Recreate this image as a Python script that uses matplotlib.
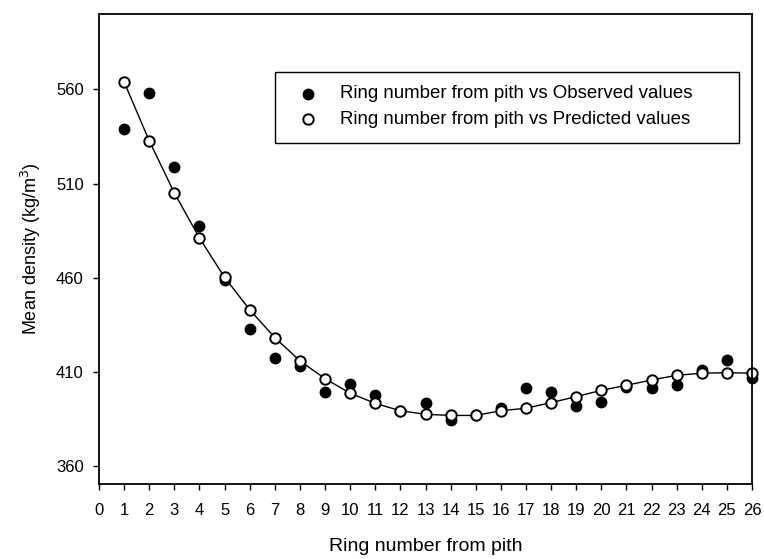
import matplotlib
matplotlib.use("Agg")
import matplotlib.pyplot as plt
from matplotlib.patches import Rectangle

plt.rcParams['font.family'] = ['Liberation Sans', 'DejaVu Sans']

ring = list(range(1, 27))
observed = [539.1, 558.2, 518.7, 487.3, 458.8, 432.7, 417.3, 413.2, 399.6, 403.4,
            397.7, 389.5, 393.3, 384.3, 387.0, 390.7, 401.3, 399.6, 391.9, 394.2,
            402.0, 401.6, 403.1, 411.0, 416.4, 407.0]
predicted = [563.9, 532.7, 505.0, 481.1, 460.2, 443.0, 428.2, 415.9, 406.4, 398.7,
             393.3, 389.4, 387.5, 386.9, 386.9, 389.4, 390.7, 393.7, 396.9, 400.2,
             402.9, 405.7, 408.2, 409.3, 409.6, 409.3]
xticks = list(range(0, 27))
yticks = [360, 410, 460, 510, 560]
label_obs = 'Ring number from pith vs Observed values'
label_pred = 'Ring number from pith vs Predicted values'

W, H = 764, 559
L, R, T, B = 99, 752, 14, 484
fig = plt.figure(figsize=(W/100, H/100), dpi=100)
ax = fig.add_axes([L/W, 1-B/H, (R-L)/W, (B-T)/H])

ms = 7.5
ax.plot(ring, observed, 'o', color='black', markersize=ms, zorder=2, clip_on=False)
ax.plot(ring, predicted, '-', color='black', linewidth=1.0, zorder=3, clip_on=False)
ax.plot(ring, predicted, 'o', markerfacecolor='white', markeredgecolor='black',
        markeredgewidth=1.4, markersize=ms, linestyle='none', zorder=4, clip_on=False)

ax.set_xlim(0, 26)
ax.set_ylim(350.5, 600)
ax.set_xticks(xticks)
ax.set_yticks(yticks)
ax.tick_params(direction='out', length=4, width=1, labelsize=12)
ax.tick_params(axis='x', pad=10)
ax.tick_params(axis='y', pad=7)
for s in ax.spines.values():
    s.set_linewidth(1.3)
    s.set_zorder(5)

ax.set_xlabel('Ring number from pith', fontsize=14, labelpad=14)
ax.set_ylabel('Mean density (kg/m$^3$)', fontsize=13, labelpad=9)

# legend box
def fx(px):
    return (px - L) / (R - L)
def fy(py):
    return (B - py) / (B - T)

ax.add_patch(Rectangle((fx(275), fy(143)), fx(739) - fx(275), fy(72) - fy(143),
                       transform=ax.transAxes, facecolor='white', edgecolor='black',
                       linewidth=1.0, zorder=6))
ax.plot([fx(308)], [fy(94)], 'o', color='black', markersize=ms,
        transform=ax.transAxes, zorder=7)
ax.plot([fx(308)], [fy(119)], 'o', markerfacecolor='white', markeredgecolor='black',
        markeredgewidth=1.4, markersize=ms, transform=ax.transAxes, zorder=7)
ax.text(fx(340), fy(94), label_obs, transform=ax.transAxes, fontsize=13.4,
        va='center', ha='left', zorder=7)
ax.text(fx(340), fy(119), label_pred, transform=ax.transAxes, fontsize=13.4,
        va='center', ha='left', zorder=7)

fig.savefig('out.png', dpi=100)
